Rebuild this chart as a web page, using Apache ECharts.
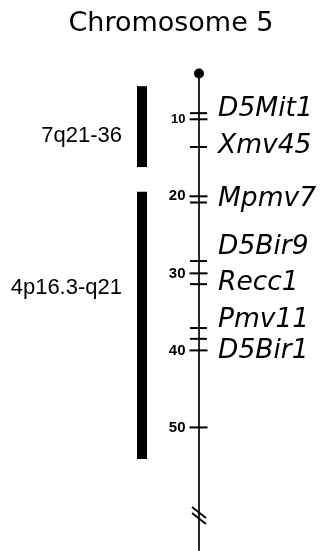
<!DOCTYPE html>
<html>
<head>
<meta charset="utf-8">
<script src="https://cdn.jsdelivr.net/npm/echarts@6/dist/echarts.min.js"></script>
<style>
html,body{margin:0;padding:0;background:#fff;}
#chart{width:325px;height:551px;}
</style>
</head>
<body>
<div id="chart"></div>
<script>
// ---- data (cM) ----
const titleText = 'Chromosome 5';
const markers = ['D5Mit1', 'Xmv45', 'Mpmv7', 'D5Bir9', 'Recc1', 'Pmv11', 'D5Bir1'];
const markerCM = [9.2, 13.6, 20.8, 28.4, 31.4, 37.1, 38.5];
const markerLabelCM = [8.7, 13.5, 20.4, 26.6, 31.3, 36.05, 40.1];
const scaleTicks = [10, 20, 30, 40, 50];
const regions = ['7q21-36', '4p16.3-q21'];
const regionStart = [5.7, 19.4];
const regionEnd = [16.2, 54.1];
const regionLabelCM = [12.1, 31.9];
const chromTop = 4.05;
const chromBottom = 66;
const breakAt = 61.5;

// ---- layout ----
const AX = 199;   // chromosome line column
const BX = 142;   // syntenic region bar column
const black = '#000';

const chart = echarts.init(document.getElementById('chart'));
chart.setOption({
  animation: false,
  backgroundColor: '#fff',
  graphic: [{
    type: 'text', x: 171, y: 24,
    style: { text: titleText, fontSize: 27, fontFamily: 'DejaVu Sans', fill: black,
             textAlign: 'center', textVerticalAlign: 'middle' }
  }],
  grid: { left: 0, right: 0, top: 42.27, bottom: 0.33 },
  xAxis: { type: 'value', min: 0, max: 325, show: false },
  yAxis: { type: 'value', min: 0, max: 66, inverse: true, show: false },
  series: [
    {
      name: 'chromosome', type: 'line', symbol: 'none', silent: true,
      data: [[AX, chromTop], [AX, chromBottom]],
      lineStyle: { color: black, width: 1.7, opacity: 1 }
    },
    {
      name: 'break', type: 'custom', silent: true,
      data: [[AX, breakAt]],
      renderItem: function (params, api) {
        const p = api.coord([api.value(0), api.value(1)]);
        const st = { stroke: black, lineWidth: 1.8 };
        return { type: 'group', children: [
          { type: 'line', shape: { x1: p[0] - 7, y1: p[1] - 9, x2: p[0] + 7, y2: p[1] + 2 }, style: st },
          { type: 'line', shape: { x1: p[0] - 7, y1: p[1] - 3, x2: p[0] + 7, y2: p[1] + 8 }, style: st }
        ]};
      }
    },
    {
      name: 'centromere', type: 'scatter', silent: true,
      data: [[AX, chromTop]], symbol: 'circle', symbolSize: 10,
      itemStyle: { color: black, opacity: 1 }
    },
    {
      name: 'scale', type: 'scatter', silent: true,
      data: scaleTicks.map(v => ({ value: [AX - 0.5, v], label: { fontSize: v === 10 ? 13 : 15 } })),
      symbol: 'rect', symbolSize: [18, 2],
      itemStyle: { color: black, opacity: 1 },
      label: {
        show: true, position: 'left', distance: 4,
        formatter: p => String(p.value[1]),
        fontFamily: 'Liberation Sans', fontWeight: 'bold', fontSize: 15, color: black, opacity: 1
      },
      labelLayout: { hideOverlap: false }
    },
    {
      name: 'markers', type: 'scatter', silent: true,
      data: markerCM.map(v => [AX - 0.5, v]),
      symbol: 'rect', symbolSize: [17, 2],
      itemStyle: { color: black, opacity: 1 }
    },
    {
      name: 'markerLabels', type: 'scatter', silent: true,
      data: markerLabelCM.map((v, i) => ({ value: [AX, v], name: markers[i] })),
      symbolSize: 0,
      itemStyle: { opacity: 1 },
      label: {
        show: true, position: 'right', distance: 19,
        formatter: p => p.name,
        fontFamily: 'DejaVu Sans', fontStyle: 'italic', fontSize: 26.5, color: black, opacity: 1
      },
      labelLayout: { hideOverlap: false }
    },
    {
      name: 'regions', type: 'custom', silent: true,
      data: regionStart.map((s, i) => [BX, s, regionEnd[i]]),
      renderItem: function (params, api) {
        const a = api.coord([api.value(0), api.value(1)]);
        const b = api.coord([api.value(0), api.value(2)]);
        return { type: 'rect', shape: { x: a[0] - 5, y: a[1], width: 10, height: b[1] - a[1] },
                 style: { fill: black } };
      }
    },
    {
      name: 'regionLabels', type: 'scatter', silent: true,
      data: regionLabelCM.map((v, i) => ({ value: [BX, v], name: regions[i] })),
      symbolSize: 0,
      itemStyle: { opacity: 1 },
      label: {
        show: true, position: 'left', distance: 20,
        formatter: p => p.name,
        fontFamily: 'Liberation Sans', fontSize: 22, color: black, opacity: 1
      },
      labelLayout: { hideOverlap: false }
    }
  ]
});
</script>
</body>
</html>
